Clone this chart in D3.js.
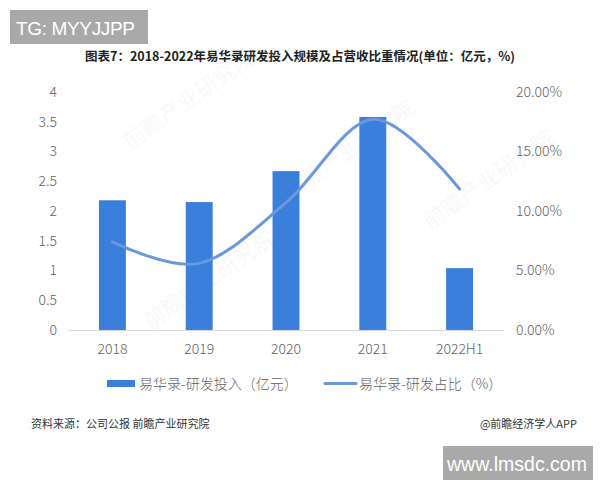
<!DOCTYPE html>
<html><head><meta charset="utf-8">
<script src="https://cdn.jsdelivr.net/npm/d3@7"></script>
<style>body{margin:0;background:#fff}svg{display:block}text{font-family:"Noto Sans CJK SC","Noto Sans",sans-serif}</style>
</head><body><svg id="c" width="600" height="480"></svg>
<script>
const categories = ["2018","2019","2020","2021","2022H1"];
const rdSpend = [2.18, 2.15, 2.67, 3.58, 1.04];
const rdRatio = [7.4, 5.6, 10.7, 17.7, 11.85];
const leftTicks = [0,0.5,1,1.5,2,2.5,3,3.5,4];
const rightTicks = [0,5,10,15,20];

const svg = d3.select("#c");
const x = d3.scaleBand().domain(categories).range([69,503]).paddingInner(0.69).paddingOuter(0.345);
const yL = d3.scaleLinear().domain([0,4]).range([330,92]);
const yR = d3.scaleLinear().domain([0,20]).range([330,92]);

// watermark badges
svg.append("rect").attr("x",10).attr("y",10).attr("width",138).attr("height",34).attr("fill","#a9a9a9");
svg.append("text").attr("x",16).attr("y",35).attr("fill","#fff").attr("font-size",19).attr("textLength",119).style("font-family","Liberation Sans, Arial, sans-serif").text("TG: MYYJJPP");

svg.append("text").attr("x",300).attr("y",61).attr("text-anchor","middle").attr("font-size",12.5).attr("font-weight","bold").attr("fill","#222")
  .text("图表7：2018-2022年易华录研发投入规模及占营收比重情况(单位：亿元，%)");

// faint watermarks
[[130,150],[290,200],[430,230],[150,330]].forEach(([a,b])=>{
  svg.append("text").attr("transform",`translate(${a},${b}) rotate(-35)`).attr("font-size",22).attr("fill","#000").attr("opacity",0.025).text("前瞻产业研究院");
});

// axes
const gL = svg.append("g").attr("transform","translate(57,0)").call(d3.axisLeft(yL).tickValues(leftTicks).tickSize(0).tickPadding(0).tickFormat(d=>d3.format("~g")(d)));
const gR = svg.append("g").attr("transform","translate(516,0)").call(d3.axisRight(yR).tickValues(rightTicks).tickSize(0).tickPadding(0).tickFormat(d=>d.toFixed(2)+"%"));
const gX = svg.append("g").attr("transform","translate(0,330)").call(d3.axisBottom(x).tickSize(0).tickPadding(14));
[gL,gR,gX].forEach(g=>{g.select(".domain").remove();g.selectAll("text").attr("font-size",14).attr("fill","#5f5f5f").style("font-family","'Noto Sans CJK SC',sans-serif").style("font-weight","300");});

// bars
svg.append("g").selectAll("rect").data(rdSpend).join("rect")
  .attr("x",(d,i)=>x(categories[i])).attr("width",x.bandwidth())
  .attr("y",d=>yL(d)).attr("height",d=>yL(0)-yL(d)).attr("fill","#3a7fdc");

// baseline
svg.append("line").attr("x1",69).attr("x2",504).attr("y1",330.5).attr("y2",330.5).attr("stroke","#d9d9d9").attr("stroke-width",1);

// line
const line = d3.line().x((d,i)=>x(categories[i])+x.bandwidth()/2).y(d=>yR(d)).curve(d3.curveCardinal.tension(0));
svg.append("path").datum(rdRatio).attr("d",line).attr("fill","none").attr("stroke","#6b98dc").attr("stroke-width",3).attr("stroke-linecap","round");

// legend
svg.append("rect").attr("x",107).attr("y",380).attr("width",28).attr("height",7).attr("fill","#3a7fdc");
svg.append("text").attr("x",139).attr("y",389).attr("font-size",14).attr("fill","#5f5f5f").style("font-weight","300").text("易华录-研发投入（亿元）");
svg.append("line").attr("x1",325).attr("x2",356).attr("y1",383.5).attr("y2",383.5).attr("stroke","#6b98dc").attr("stroke-width",3).attr("stroke-linecap","round");
svg.append("text").attr("x",359).attr("y",389).attr("font-size",14).attr("fill","#5f5f5f").style("font-weight","300").text("易华录-研发占比（%）");

// footer
svg.append("text").attr("x",31).attr("y",428).attr("font-size",11).attr("fill","#333").text("资料来源：公司公报 前瞻产业研究院");
svg.append("text").attr("x",577).attr("y",428).attr("text-anchor","end").attr("font-size",11).attr("fill","#333").text("@前瞻经济学人APP");

svg.append("rect").attr("x",443).attr("y",446).attr("width",150).attr("height",34).attr("fill","#a9a9a9");
svg.append("text").attr("x",447).attr("y",471).attr("fill","#fff").attr("font-size",21).attr("textLength",140).attr("lengthAdjust","spacingAndGlyphs").style("font-family","Liberation Sans, Arial, sans-serif").text("www.lmsdc.com");
</script></body></html>
